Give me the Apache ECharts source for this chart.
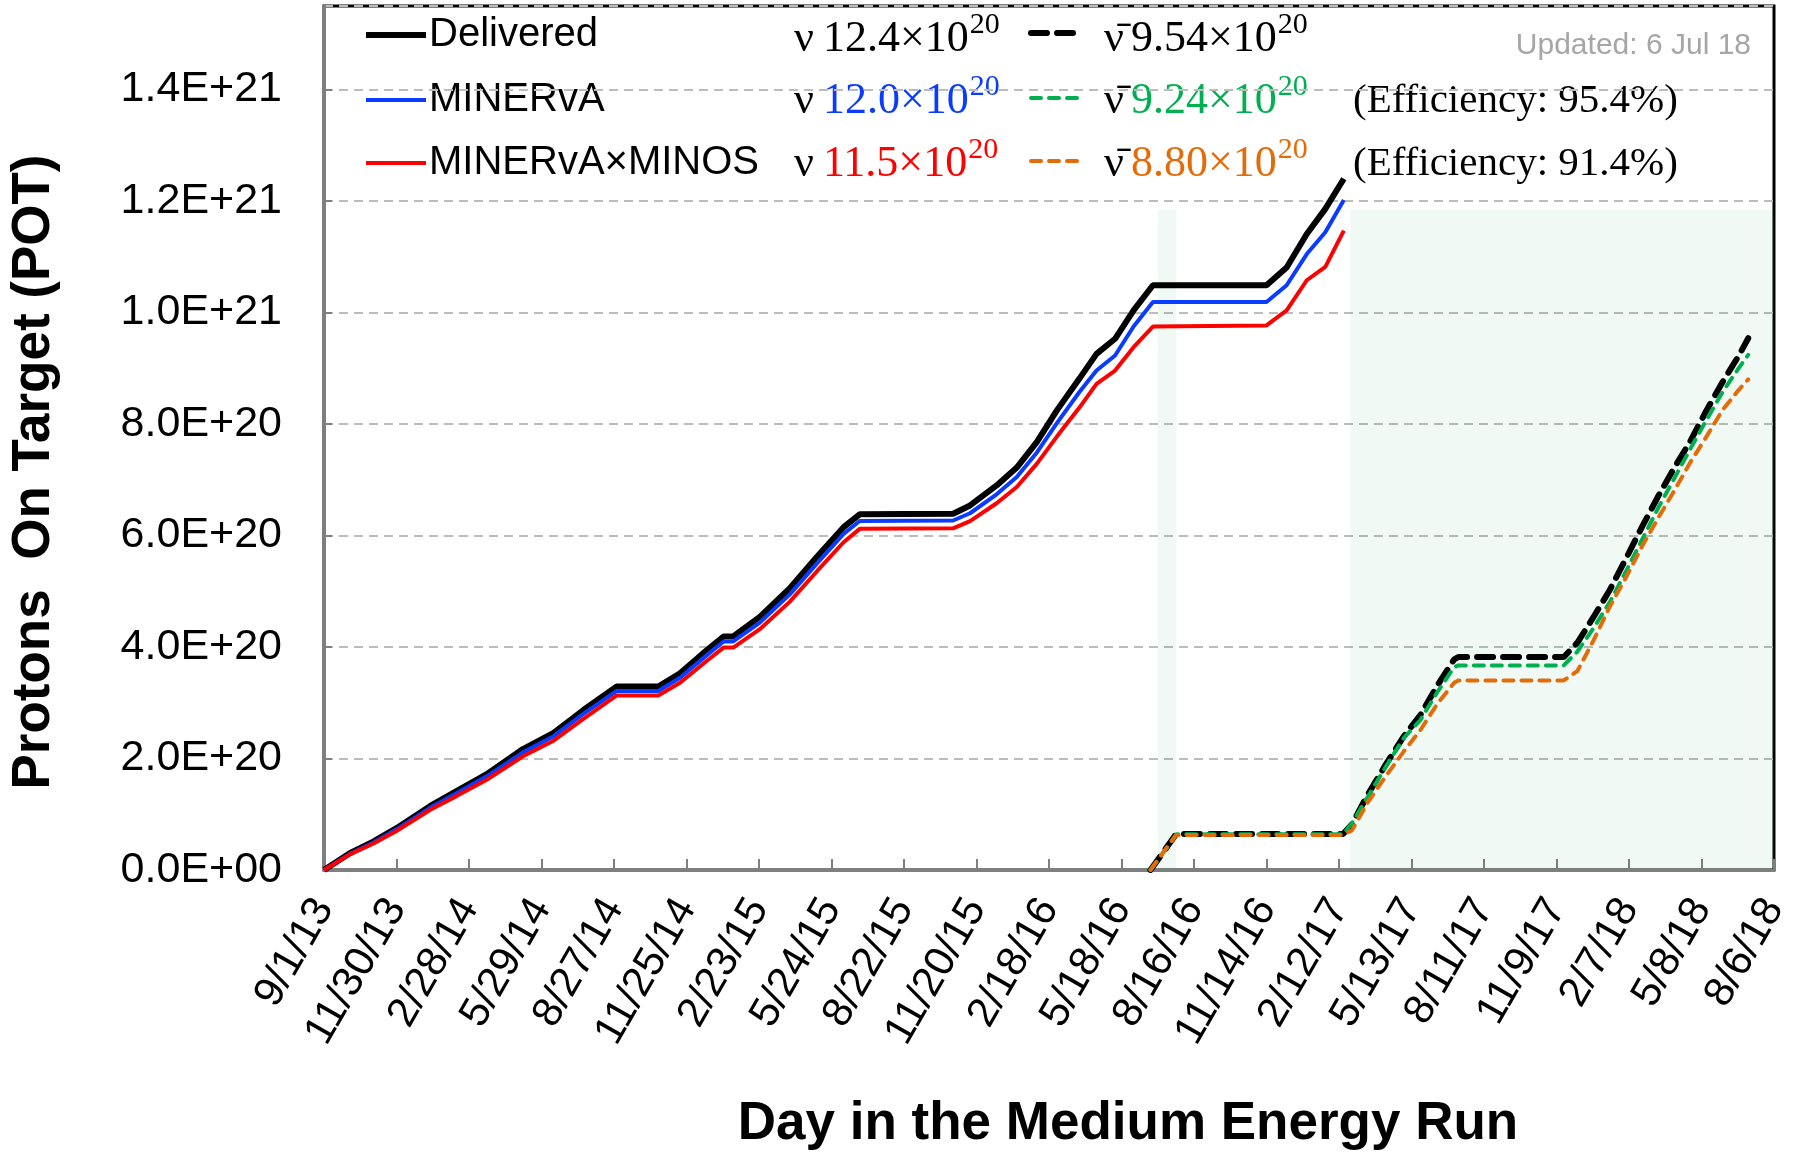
<!DOCTYPE html>
<html><head><meta charset="utf-8">
<script src="https://cdn.jsdelivr.net/npm/echarts@6/dist/echarts.min.js"></script>
<style>html,body{margin:0;padding:0;background:#fff}#c{width:1795px;height:1152px}</style>
</head><body><div id="c"></div>
<script>
// ---- data (POT in units of 1e20, x in days since 9/1/13) ----
const xTickLabels = ['9/1/13','11/30/13','2/28/14','5/29/14','8/27/14','11/25/14','2/23/15','5/24/15','8/22/15','11/20/15','2/18/16','5/18/16','8/16/16','11/14/16','2/12/17','5/13/17','8/11/17','11/9/17','2/7/18','5/8/18','8/6/18'];
const yTickLabels = ['0.0E+00','2.0E+20','4.0E+20','6.0E+20','8.0E+20','1.0E+21','1.2E+21','1.4E+21'];

const nuDays    = [0,32,61,90,132,165,202,247,285,322,363,415,442,475,496,508,541,578,612,645,665,781,802,835,860,885,910,938,959,982,1005,1029,1170,1195,1220,1243,1266];
const delivered = [0,0.30,0.51,0.75,1.15,1.42,1.72,2.17,2.46,2.87,3.29,3.29,3.53,3.94,4.19,4.19,4.54,5.05,5.62,6.15,6.38,6.39,6.54,6.90,7.22,7.68,8.25,8.82,9.26,9.53,10.04,10.49,10.49,10.81,11.41,11.86,12.40];
const minerva   = [0,0.29,0.49,0.73,1.12,1.38,1.68,2.11,2.40,2.80,3.21,3.21,3.45,3.85,4.10,4.10,4.44,4.94,5.50,6.03,6.26,6.27,6.40,6.74,7.05,7.49,8.02,8.58,8.96,9.23,9.75,10.19,10.19,10.49,11.05,11.44,12.02];
const minos     = [0,0.28,0.47,0.70,1.08,1.33,1.62,2.04,2.32,2.71,3.13,3.13,3.36,3.75,3.99,3.99,4.32,4.81,5.36,5.88,6.12,6.13,6.26,6.58,6.87,7.29,7.78,8.30,8.72,8.96,9.38,9.75,9.77,10.04,10.58,10.82,11.47];

const antiDays      = [1026,1058,1265,1276,1296,1318,1340,1361,1382,1403,1408,1539,1556,1576,1596,1616,1636,1656,1676,1696,1716,1736,1756,1768];
const antiDelivered = [0,0.645,0.645,0.82,1.36,1.89,2.39,2.78,3.31,3.78,3.82,3.82,4.08,4.54,5.02,5.58,6.15,6.70,7.21,7.69,8.24,8.75,9.22,9.54];
const antiMinerva   = [0,0.64,0.64,0.84,1.32,1.85,2.36,2.69,3.19,3.64,3.67,3.67,3.92,4.34,4.80,5.35,5.92,6.49,7.02,7.55,8.07,8.57,9.00,9.24];
const antiMinos     = [0,0.63,0.63,0.71,1.22,1.68,2.12,2.51,2.98,3.36,3.40,3.40,3.57,4.12,4.72,5.24,5.80,6.31,6.80,7.31,7.77,8.25,8.61,8.80];

const shadedPeriods = [[1035,1058],[1274,1800]];
const shadedTop = 11.85;

// legend texts
const legendNames = ['Delivered','MINERvA','MINERvA×MINOS'];
const nuTotals    = ['12.4×10','12.0×10','11.5×10'];
const antiTotals  = ['9.54×10','9.24×10','8.80×10'];
const efficiencies = ['', '(Efficiency: 95.4%)', '(Efficiency: 91.4%)'];

// ---- styling ----
const SANS = '"Liberation Sans", Arial, sans-serif';
const SERIF = '"Liberation Serif", "Times New Roman", serif';
const nuColors = ['#000000','#0a3cff','#ff0000'];
const antiColors = ['#000000','#00b050','#e36c09'];
const totalColors = ['#000000','#0a3cff','#ff0000'];
const antiTextColors = ['#000000','#00b050','#e36c09'];

function pairs(xs, ys){ return xs.map((x,i)=>[x, ys[i]]); }

const cv = document.createElement('canvas').getContext('2d');
function measure(t, font){ cv.font = font; return cv.measureText(t).width; }

const graphic = [];
const rowY = [35, 100, 163];
const NUMFONT = '44px '+SERIF, SUPFONT = '30px '+SERIF;
for (let i=0;i<3;i++){
  const y = rowY[i];
  graphic.push({type:'line', shape:{x1:366,y1:y,x2:426,y2:y}, style:{stroke:nuColors[i], lineWidth: i===0?6:4}});
  graphic.push({type:'text', x:429, y:y, style:{text:legendNames[i], font:'40px '+SANS, fill:'#000', textVerticalAlign:'middle'}});
  const ty = i===0 ? y+4 : y+1;
  graphic.push({type:'text', x:794, y:ty, style:{text:'ν', font:NUMFONT, fill:'#000', textVerticalAlign:'middle'}});
  const nw = measure(nuTotals[i], NUMFONT);
  graphic.push({type:'text', x:823, y:ty, style:{text:nuTotals[i], font:NUMFONT, fill:totalColors[i], textVerticalAlign:'middle'}});
  graphic.push({type:'text', x:823+nw+1, y:ty-14, style:{text:'20', font:SUPFONT, fill:totalColors[i], textVerticalAlign:'middle'}});
  const dy = y-2;
  graphic.push({type:'line', shape:{x1:1031,y1:dy,x2:1077,y2:dy}, style:{stroke:antiColors[i], lineWidth: i===0?6:4, lineDash: i===0?[16,10]:[10,8], lineCap:'round'}});
  graphic.push({type:'text', x:1104, y:ty, style:{text:'ν\u0304', font:NUMFONT, fill:'#000', textVerticalAlign:'middle'}});
  const aw = measure(antiTotals[i], NUMFONT);
  graphic.push({type:'text', x:1131, y:ty, style:{text:antiTotals[i], font:NUMFONT, fill:antiTextColors[i], textVerticalAlign:'middle'}});
  graphic.push({type:'text', x:1131+aw+1, y:ty-14, style:{text:'20', font:SUPFONT, fill:antiTextColors[i], textVerticalAlign:'middle'}});
  if (efficiencies[i]) {
    graphic.push({type:'text', x:1353, y:ty, style:{text:efficiencies[i], font:'41px '+SERIF, fill:'#000', textVerticalAlign:'middle'}});
  }
}
graphic.push({type:'text', x:1751, y:46, style:{text:'Updated: 6 Jul 18', font:'30px '+SANS, fill:'#a6a6a6', textAlign:'right', textVerticalAlign:'middle'}});
graphic.push({type:'text', x:34, y:472, rotation:Math.PI/2, style:{text:'Protons  On Target (POT)', font:'bold 53px '+SANS, fill:'#000', textAlign:'center', textVerticalAlign:'middle'}});
graphic.push({type:'text', x:1128, y:1124, style:{text:'Day in the Medium Energy Run', font:'bold 53px '+SANS, fill:'#000', textAlign:'center', textVerticalAlign:'middle'}});

const option = {
  animation:false,
  backgroundColor:'#fff',
  grid:{left:324, right:21, top:6, bottom:282, show:true, borderColor:'#000', borderWidth:3, backgroundColor:'transparent'},
  xAxis:{type:'value', min:0, max:1800, interval:90,
    axisLine:{show:true, lineStyle:{color:'#7f7f7f', width:3}},
    axisTick:{show:true, inside:true, length:11, lineStyle:{color:'#7f7f7f', width:2}},
    splitLine:{show:false},
    axisLabel:{rotate:60, margin:32, fontSize:42, fontFamily:SANS, color:'#000',
      formatter:v=>xTickLabels[Math.round(v/90)]||''}},
  yAxis:{type:'value', min:0, max:15.5, interval:2,
    axisLine:{show:true, lineStyle:{color:'#7f7f7f', width:3}},
    axisTick:{show:true, inside:true, length:8, lineStyle:{color:'#7f7f7f', width:2}},
    splitLine:{show:true, lineStyle:{color:'#bcbcbc', width:2, type:[9,6]}},
    axisLabel:{margin:42, fontSize:43, fontFamily:SANS, color:'#000', showMaxLabel:false,
      formatter:v=>yTickLabels[Math.round(v/2)]||''}},
  graphic: graphic,
  series:[
    {name:'Delivered', type:'line', data:pairs(nuDays, delivered), showSymbol:false, lineStyle:{color:nuColors[0], width:6}, z:3,
      markArea:{silent:true, itemStyle:{color:'rgba(0,150,70,0.06)'},
        data: shadedPeriods.map(p=>[{xAxis:p[0], yAxis:0},{xAxis:p[1], yAxis:shadedTop}])}},
    {name:'MINERvA', type:'line', data:pairs(nuDays, minerva), showSymbol:false, lineStyle:{color:nuColors[1], width:4}, z:4},
    {name:'MINERvA×MINOS', type:'line', data:pairs(nuDays, minos), showSymbol:false, lineStyle:{color:nuColors[2], width:4}, z:5},
    {name:'Delivered anti', type:'line', data:pairs(antiDays, antiDelivered), showSymbol:false, lineStyle:{color:antiColors[0], width:6, type:[16,10], cap:'round'}, z:6},
    {name:'MINERvA anti', type:'line', data:pairs(antiDays, antiMinerva), showSymbol:false, lineStyle:{color:antiColors[1], width:4, type:[10,8], cap:'round'}, z:7},
    {name:'MINOS anti', type:'line', data:pairs(antiDays, antiMinos), showSymbol:false, lineStyle:{color:antiColors[2], width:4, type:[10,8], cap:'round'}, z:8}
  ]
};
const chart = echarts.init(document.getElementById('c'));
chart.setOption(option);
</script>
</body></html>
